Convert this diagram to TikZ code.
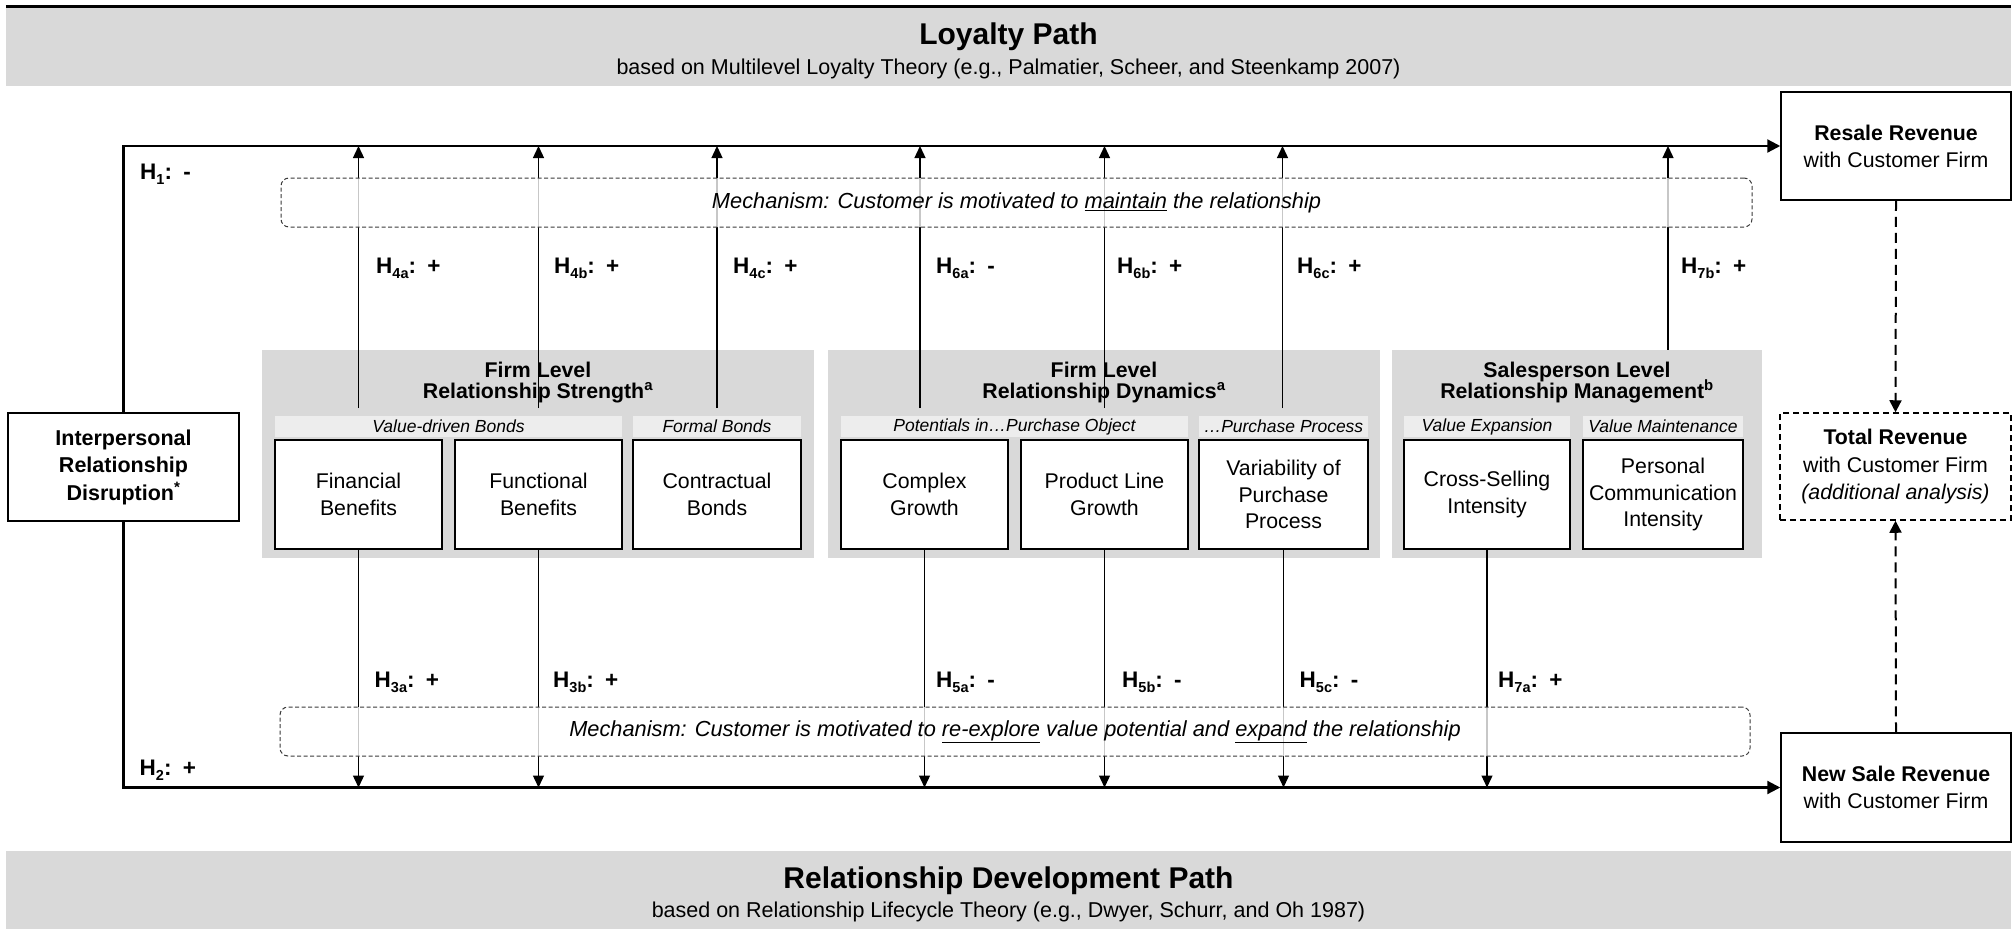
\documentclass[tikz,border=0pt]{standalone}
\usepackage{fontspec}
\setmainfont{Liberation Sans}
\usetikzlibrary{arrows.meta,calc}

\definecolor{bandgray}{HTML}{D9D9D9}
\definecolor{groupgray}{HTML}{D9D9D9}
\definecolor{subgray}{HTML}{EDEDED}
\definecolor{mechline}{HTML}{3A3A3A}

\newcommand\fs[2]{\fontsize{#1}{#2}\selectfont}
\newcommand\hsub[1]{\raisebox{-5.5pt}{\fs{14.5}{15}#1}}
\newcommand\hyp[2]{H\hsub{#1}:\hspace{0.5em}#2}

\tikzset{
  band/.style={fill=bandgray, inner sep=0pt},
  bandtitle/.style={anchor=base, inner sep=0pt, font=\fs{30}{33}\bfseries},
  bandsub/.style={anchor=base, inner sep=0pt, font=\fs{21.5}{24}},
  grp/.style={fill=groupgray, inner sep=0pt, minimum height=208pt},
  gtitle/.style={anchor=base, inner sep=0pt, font=\fs{21.3}{24}\bfseries},
  subbar/.style={fill=subgray, inner sep=0pt, minimum height=21pt, font=\fs{17.5}{20}\itshape},
  box/.style={draw=black, line width=1.5pt, fill=white, inner sep=0pt, align=center,
              minimum height=109pt, font=\fs{21.3}{26.5}},
  outbox/.style={draw=black, line width=1.5pt, fill=white, inner sep=0pt, align=center,
              minimum width=230pt, minimum height=108pt, font=\fs{21.3}{27}},
  hlab/.style={anchor=base west, inner sep=0pt, font=\fs{22.5}{25}\bfseries},
  arr/.style={line width=1.3pt, -{Triangle[length=12pt,width=11pt]}},
  mainline/.style={line width=2.2pt, line join=miter, -{Triangle[length=13pt,width=13pt]}},
  dasharr/.style={line width=2pt, dash pattern=on 10pt off 6pt, -{Triangle[length=12pt,width=12pt]}},
  mech/.style={draw=mechline, line width=1pt, dash pattern=on 4pt off 2.5pt, rounded corners=8pt,
               fill=white, fill opacity=0.78, text opacity=1, inner sep=0pt,
               minimum height=49pt, font=\fs{21.8}{24}\itshape}
}

\begin{document}
\begin{tikzpicture}[x=1pt, y=-1pt]
\useasboundingbox (0,0) rectangle (2014,929);

% ---------- theory banners ----------
\node[band, minimum width=2005pt, minimum height=78pt] (topband) at (1008.5,47) {};
\draw[line width=3.3pt] (topband.north west) ++(0,-1.6) coordinate (tbl) -- (tbl -| topband.north east);
\node[bandtitle] (lptitle) at (1008.5,44) {Loyalty Path};
\node[bandsub] (lpsub) at (1008.5,74.3) {based on Multilevel Loyalty Theory (e.g., Palmatier, Scheer, and Steenkamp 2007)};

\node[band, minimum width=2005pt, minimum height=78pt] (botband) at (1008.5,890) {};
\node[bandtitle] (rdtitle) at (1008.5,888) {Relationship Development Path};
\node[bandsub] (rdsub) at (1008.5,917) {based on Relationship Lifecycle Theory (e.g., Dwyer, Schurr, and Oh 1987)};

% ---------- construct groups ----------
\node[grp, minimum width=552pt] (g1) at (538,454) {};
\node[grp, minimum width=552pt] (g2) at (1104,454) {};
\node[grp, minimum width=370pt] (g3) at (1577,454) {};

\node[gtitle] (g1a) at (538,377.5) {Firm Level};
\node[gtitle] (g1b) at (538,398.5) {Relationship Strength\textsuperscript{a}};
\node[gtitle] (g2a) at (1104,377.5) {Firm Level};
\node[gtitle] (g2b) at (1104,398.5) {Relationship Dynamics\textsuperscript{a}};
\node[gtitle] (g3a) at (1577,377.5) {Salesperson Level};
\node[gtitle] (g3b) at (1577,398.5) {Relationship Management\textsuperscript{b}};

\node[subbar, minimum width=347pt] (s1a) at (448.5,426.5) {Value-driven Bonds};
\node[subbar, minimum width=168pt] (s1b) at (717,426.5) {Formal Bonds};
\node[subbar, minimum width=347pt] (s2a) at (1014.5,426.5) {Potentials in…Purchase Object};
\node[subbar, minimum width=169pt] (s2b) at (1283.5,426.5) {…Purchase Process};
\node[subbar, minimum width=166pt] (s3a) at (1487,426.5) {Value Expansion};
\node[subbar, minimum width=160pt] (s3b) at (1663,426.5) {Value Maintenance};

\node[box, minimum width=167pt] (fin) at (358.5,494.5) {Financial\\Benefits};
\node[box, minimum width=167pt] (fun) at (538.5,494.5) {Functional\\Benefits};
\node[box, minimum width=168pt] (con) at (717,494.5) {Contractual\\Bonds};
\node[box, minimum width=167pt] (cpx) at (924.5,494.5) {Complex\\Growth};
\node[box, minimum width=167pt] (pl) at (1104.5,494.5) {Product Line\\Growth};
\node[box, minimum width=169pt] (var) at (1283.5,494.5) {Variability of\\Purchase\\Process};
\node[box, minimum width=166pt] (cs) at (1487,494.5) {Cross-Selling\\Intensity};
\node[box, minimum width=160pt] (pc) at (1663,494.5) {Personal\\Communication\\Intensity};

% ---------- predictor and outcomes ----------
\node[outbox, minimum width=231pt, font=\fs{21.5}{27.5}\bfseries] (ird) at (123.5,467)
  {Interpersonal\\Relationship\\Disruption\textsuperscript{*}};
\node[outbox] (res) at (1896,146) {\textbf{Resale Revenue}\\with Customer Firm};
\node[outbox, minimum height=109pt] (nsr) at (1896,787.5) {\textbf{New Sale Revenue}\\with Customer Firm};
\node[outbox, dash pattern=on 6pt off 4pt, minimum width=231pt, minimum height=107pt, font=\fs{21.3}{27.5}]
  (tot) at (1895.5,466.5) {\textbf{Total Revenue}\\with Customer Firm\\\textit{(additional analysis)}};

% ---------- direct paths H1 / H2 ----------
\draw[mainline] (ird.north) -- (ird.north |- res.west) -- (res.west);
\draw[mainline] (ird.south) -- (ird.south |- nsr.west) -- (nsr.west);

\draw[dasharr] (res.south) -- (tot.north);
\draw[dasharr] (nsr.north) -- (tot.south);

% ---------- loyalty-path arrows ----------
\coordinate (gl) at (0,408);
\draw[arr] (fin |- gl) -- (fin |- res.west);
\draw[arr] (fun |- gl) -- (fun |- res.west);
\draw[arr] (con |- gl) -- (con |- res.west);
\draw[arr] ([xshift=-4.5pt]cpx |- gl) -- ([xshift=-4.5pt]cpx |- res.west);
\draw[arr] (pl |- gl) -- (pl |- res.west);
\draw[arr] ([xshift=-1pt]var |- gl) -- ([xshift=-1pt]var |- res.west);
\draw[arr] ([xshift=5pt]pc |- g3.north) -- ([xshift=5pt]pc |- res.west);

% ---------- development-path arrows ----------
\draw[arr] (fin.south) -- (fin.south |- nsr.west);
\draw[arr] (fun.south) -- (fun.south |- nsr.west);
\draw[arr] (cpx.south) -- (cpx.south |- nsr.west);
\draw[arr] (pl.south) -- (pl.south |- nsr.west);
\draw[arr] (var.south) -- (var.south |- nsr.west);
\draw[arr] (cs.south) -- (cs.south |- nsr.west);

% ---------- mechanisms ----------
\node[mech, minimum width=1471pt] (mtop) at (1016.5,202.5)
  {Mechanism: Customer is motivated to \underline{maintain} the relationship};
\node[mech, minimum width=1470pt] (mbot) at (1015,731.5)
  {Mechanism: Customer is motivated to \underline{re-explore} value potential and \underline{expand} the relationship};

% ---------- hypothesis labels ----------
\node[hlab] (h1) at (140,179) {\hyp{1}{-}};
\node[hlab] (h2) at (139.5,775) {\hyp{2}{+}};

\node[hlab] (h4a) at (376,273) {\hyp{4a}{+}};
\node[hlab] (h4b) at (554,273) {\hyp{4b}{+}};
\node[hlab] (h4c) at (733,273) {\hyp{4c}{+}};
\node[hlab] (h6a) at (936,273) {\hyp{6a}{-}};
\node[hlab] (h6b) at (1117,273) {\hyp{6b}{+}};
\node[hlab] (h6c) at (1297,273) {\hyp{6c}{+}};
\node[hlab] (h7b) at (1681,273) {\hyp{7b}{+}};

\node[hlab] (h3a) at (374.5,687) {\hyp{3a}{+}};
\node[hlab] (h3b) at (553,687) {\hyp{3b}{+}};
\node[hlab] (h5a) at (936,687) {\hyp{5a}{-}};
\node[hlab] (h5b) at (1122,687) {\hyp{5b}{-}};
\node[hlab] (h5c) at (1299.5,687) {\hyp{5c}{-}};
\node[hlab] (h7a) at (1498,687) {\hyp{7a}{+}};
\end{tikzpicture}
\end{document}
